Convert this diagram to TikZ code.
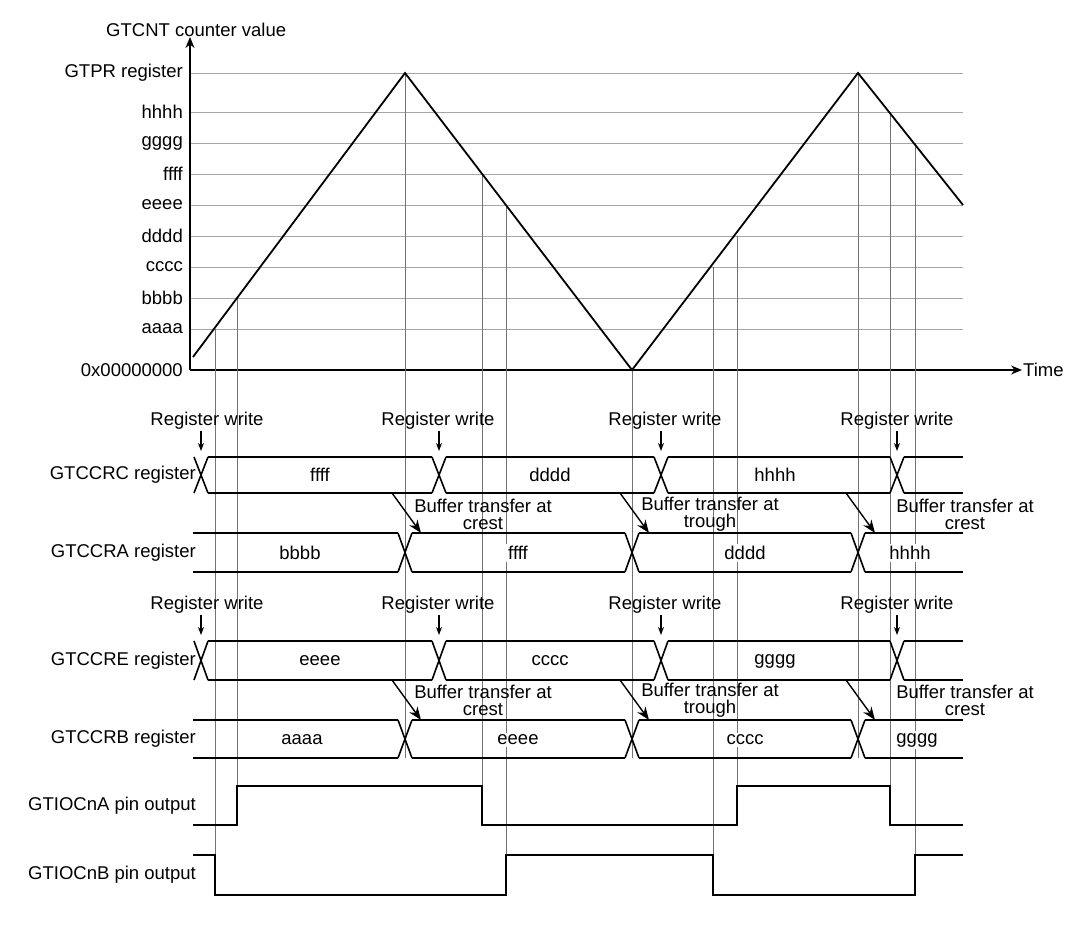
\documentclass[tikz,border=0pt]{standalone}
\usepackage{fontspec}
\setmainfont{Liberation Sans}
\usetikzlibrary{arrows.meta}

\tikzset{
  lbl/.style={font=\fontsize{18.5}{17}\selectfont, inner sep=1pt},
  grid/.style={gray!70, line width=0.8pt},
  sig/.style={black, line width=1.6pt},
  guide/.style={gray!90!black, line width=0.9pt},
  wr/.style={-{Stealth[length=8pt,width=6pt]}, line width=1.4pt},
}

\begin{document}
\begin{tikzpicture}[x=1pt,y=-1pt]
        \useasboundingbox (0,0) rectangle (1080,928);
        % counter levels
        \foreach \y/\t in {73/GTPR register, 112/hhhh, 143/gggg, 174/ffff, 205/eeee, 236/dddd, 267/cccc, 298/bbbb, 329/aaaa} {
          \draw [grid] (190,\y) -- (963,\y);
          \node [lbl, anchor=east] at (184,\y) {\t};
        }
        \node [lbl, anchor=east] (zero) at (184,370) {0x00000000};
        \node [lbl, anchor=west] (ylab) at (105,30) {GTCNT counter value};
        \node [lbl, anchor=west] (tlab) at (1022,370) {Time};
        \coordinate (org) at (190,370);
        \draw [sig, -{Stealth[length=11pt,width=9pt]}] (org) -- (190,37);
        \draw [sig, -{Stealth[length=11pt,width=9pt]}] (org) -- (tlab.west);
        % guide lines
        \foreach \x/\a/\b in {215/329/895, 237/298/825, 405/73/758, 482/174/825, 506/205/855, 632/370/758, 713/267/895, 737/236/825, 858/73/758, 890/112/825, 915/143/855}
          \draw [guide] (\x,\a) -- (\x,\b);
        % counter
        \draw [sig, line width=1.8pt] (193,357) -- (405,73) -- (632,370) -- (858,73) -- (963,205);
        % register rows
        \foreach \top/\bot/\xs/\segs/\t in {457/493/{201,439,661,897}/{201/439,439/661,661/897,897/970}/GTCCRC register,
                                            533/572/{405,632,858}/{186/405,405/632,632/858,858/970}/GTCCRA register,
                                            641/680/{201,439,661,897}/{201/439,439/661,661/897,897/970}/GTCCRE register,
                                            720/758/{405,632,858}/{186/405,405/632,632/858,858/970}/GTCCRB register} {
          \node [lbl, anchor=east] at (197,{(\top+\bot)/2}) {\t};
          \foreach \c in \xs {
            \draw [sig] (\c-7,\top) -- (\c+7,\bot);
            \draw [sig] (\c-7,\bot) -- (\c+7,\top);
          }
          \foreach \a/\b in \segs {
            \draw [sig] (\a+7,\top) -- (\b-7,\top);
            \draw [sig] (\a+7,\bot) -- (\b-7,\bot);
          }
        }
        % values
        \foreach \x/\y/\t in {320/475/ffff, 550/475/dddd, 775/475/hhhh,
                              300/553/bbbb, 518/553/ffff, 745/553/dddd, 910/553/hhhh,
                              320/661/eeee, 550/661/cccc, 775/661/gggg,
                              302/740/aaaa, 518/740/eeee, 745/740/cccc, 917/740/gggg}
          \node [lbl, fill=white, inner sep=2pt] at (\x,\y) {\t};
        % register writes
        \foreach \y in {421,605} {
          \foreach \x/\c in {207/201, 438/439, 665/661, 897/897} {
            \node [lbl] (rw) at (\x,\y) {Register write};
            \draw [wr] (\c,\y+10) -- (\c,\y+30);
          }
        }
        % buffer transfers
        \foreach \y in {514,700} {
          \foreach \x/\t in {483/crest, 710/trough, 965/crest}
            \node [lbl, align=center, inner sep=0pt] at (\x,\y) {Buffer transfer at\\\t};
        }
        \foreach \y/\z in {493/533, 680/720} {
          \foreach \x in {392,620,846}
            \draw [wr, -{Stealth[length=13pt,width=10pt]}] (\x,\y) -- (\x+29,\z);
        }
        % pin outputs
        \node [lbl, anchor=east] (pa) at (197,806) {GTIOCnA pin output};
        \node [lbl, anchor=east] (pb) at (197,875) {GTIOCnB pin output};
        \draw [sig] (193,825) -- (237,825) -- (237,786) -- (482,786) -- (482,825) -- (737,825) -- (737,786) -- (890,786) -- (890,825) -- (963,825);
        \draw [sig] (193,855) -- (215,855) -- (215,895) -- (506,895) -- (506,855) -- (713,855) -- (713,895) -- (915,895) -- (915,855) -- (963,855);
\end{tikzpicture}
\end{document}
